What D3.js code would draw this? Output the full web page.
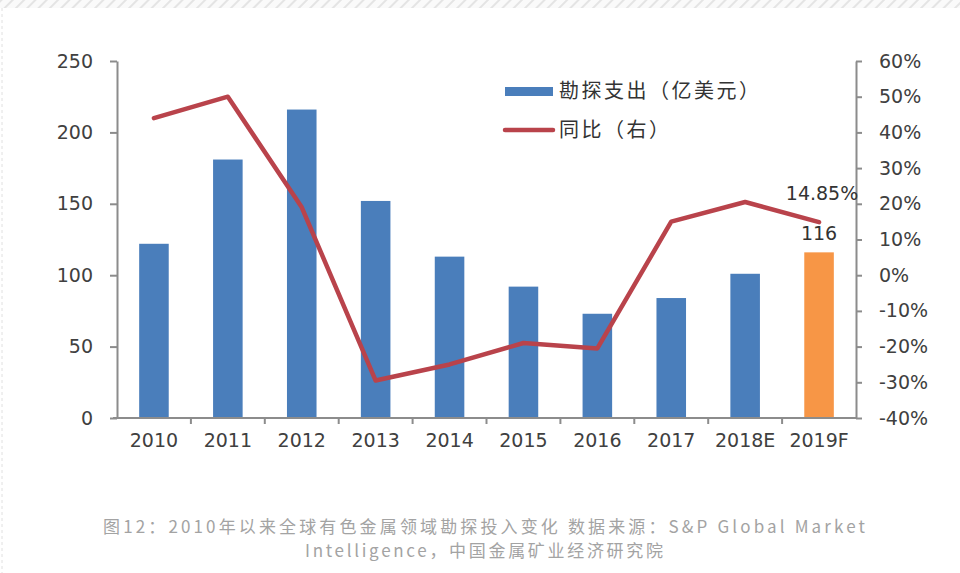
<!DOCTYPE html>
<html>
<head>
<meta charset="utf-8">
<title>2010年以来全球有色金属领域勘探投入变化</title>
<script src="https://cdnjs.cloudflare.com/ajax/libs/d3/7.8.5/d3.min.js"></script>
<style>
  body { margin: 0; background: #fff; }
  .tick text { font-family: "DejaVu Sans", sans-serif; font-size: 19px; fill: #404040; }
  .axis path, .axis line { stroke: #8c8c8c; stroke-width: 2; }
</style>
</head>
<body>
<div id="chart"></div>
<script>
// data
const years = ["2010", "2011", "2012", "2013", "2014", "2015", "2016", "2017", "2018E", "2019F"];
const spend = [122, 181, 216, 152, 113, 92, 73, 84, 101, 116];          // 勘探支出（亿美元）
const yoy = [44, 50, 19, -29.5, -25, -19, -20.5, 15, 20.5, 14.85];      // 同比（右），%
const leftTicks = [0, 50, 100, 150, 200, 250];
const rightTicks = [-40, -30, -20, -10, 0, 10, 20, 30, 40, 50, 60];

const width = 960, height = 573;
const m = {top: 61, left: 117, right: 104, bottom: 155};

const svg = d3.select("#chart").append("svg")
    .attr("width", width)
    .attr("height", height);

// faint hatched strip on top and dashed left edge, like the screenshot frame
const defs = svg.append("defs");
const pat = defs.append("pattern")
    .attr("id", "hatch")
    .attr("width", 8).attr("height", 8)
    .attr("patternUnits", "userSpaceOnUse")
    .attr("patternTransform", "rotate(45)");
pat.append("rect").attr("width", 8).attr("height", 8).attr("fill", "#fafafa");
pat.append("line").attr("x1", 0).attr("y1", 0).attr("x2", 0).attr("y2", 8)
    .attr("stroke", "#e4e4e4").attr("stroke-width", 4);
svg.append("rect").attr("x", 0).attr("y", 0).attr("width", width).attr("height", 8)
    .attr("fill", "url(#hatch)");
svg.append("line").attr("x1", 2).attr("x2", 2).attr("y1", 8).attr("y2", height)
    .attr("stroke", "#e0e0e0").attr("stroke-dasharray", "3,3");

const x = d3.scaleBand()
    .domain(years)
    .range([m.left, width - m.right])
    .paddingInner(0.6)
    .paddingOuter(0.3);

const band = d3.scaleBand().domain(years).range([m.left, width - m.right]);

const y = d3.scaleLinear().domain([0, 250]).range([height - m.bottom, m.top]);
const y2 = d3.scaleLinear().domain([-40, 60]).range([height - m.bottom, m.top]);

// bars
svg.append("g")
  .selectAll("rect")
  .data(years)
  .join("rect")
    .attr("x", d => x(d))
    .attr("width", x.bandwidth())
    .attr("y", (d, i) => y(spend[i]))
    .attr("height", (d, i) => y(0) - y(spend[i]))
    .attr("fill", (d, i) => i === years.length - 1 ? "#f79646" : "#4a7ebb");

// axes
const gx = svg.append("g")
    .attr("class", "axis")
    .attr("transform", `translate(0,${y(0)})`)
    .call(d3.axisBottom(band).tickSize(0).tickPadding(16));
gx.select(".domain").attr("d", `M${m.left - 4},0H${width - m.right}`);
gx.selectAll(".tick text").attr("dy", "0.71em");
// tick marks between categories
gx.selectAll(".sep")
  .data(years.slice(1))
  .join("line")
    .attr("class", "sep")
    .attr("x1", d => band(d)).attr("x2", d => band(d))
    .attr("y1", 0).attr("y2", 6);

svg.append("g")
    .attr("class", "axis")
    .attr("transform", `translate(${m.left},0)`)
    .call(d3.axisLeft(y).tickValues(leftTicks).tickSize(7).tickPadding(17).tickSizeOuter(0));

svg.append("g")
    .attr("class", "axis")
    .attr("transform", `translate(${width - m.right},0)`)
    .call(d3.axisRight(y2).tickValues(rightTicks).tickSize(6).tickPadding(17).tickSizeOuter(0)
        .tickFormat(d => d + "%"));

// line
const cx = d => band(d) + band.bandwidth() / 2;
const line = d3.line()
    .x(d => cx(d))
    .y((d, i) => y2(yoy[i]));

svg.append("path")
    .datum(years)
    .attr("d", line)
    .attr("fill", "none")
    .attr("stroke", "#b9434b")
    .attr("stroke-width", 4.5)
    .attr("stroke-linejoin", "round")
    .attr("stroke-linecap", "round");

// last point labels
const last = years.length - 1;
svg.append("text")
    .attr("x", cx(years[last]) + 3)
    .attr("y", y2(yoy[last]) - 22)
    .attr("text-anchor", "middle")
    .style("font", "19px 'DejaVu Sans', sans-serif")
    .attr("fill", "#333")
    .text(yoy[last].toFixed(2) + "%");
svg.append("text")
    .attr("x", cx(years[last]))
    .attr("y", y(spend[last]) - 12)
    .attr("text-anchor", "middle")
    .style("font", "19px 'DejaVu Sans', sans-serif")
    .attr("fill", "#333")
    .text(spend[last]);

// legend
const lg = svg.append("g").attr("transform", "translate(505,0)");
lg.append("rect").attr("x", 0).attr("y", 87).attr("width", 48).attr("height", 9).attr("fill", "#4a7ebb");
lg.append("line").attr("x1", 0).attr("x2", 48).attr("y1", 130).attr("y2", 130)
    .attr("stroke", "#b9434b").attr("stroke-width", 4.5).attr("stroke-linecap", "round");
lg.selectAll("text")
  .data(["勘探支出（亿美元）", "同比（右）"])
  .join("text")
    .attr("x", 54)
    .attr("y", (d, i) => 91 + i * 39)
    .attr("dy", "0.36em")
    .style("font", "20px 'Noto Sans CJK SC', sans-serif")
    .style("letter-spacing", "2.5px")
    .attr("fill", "#333")
    .text(d => d);

// caption
const caption = [
  {t: "图12：2010年以来全球有色金属领域勘探投入变化  数据来源：S&P Global Market", y: 533, w: 762},
  {t: "Intelligence，中国金属矿业经济研究院", y: 557, w: 358}
];
svg.append("g")
  .selectAll("text")
  .data(caption)
  .join("text")
    .attr("x", 484)
    .attr("y", d => d.y)
    .attr("text-anchor", "middle")
    .attr("textLength", d => d.w)
    .attr("lengthAdjust", "spacing")
    .style("font", "17px 'Noto Sans CJK SC', sans-serif")
    .attr("fill", "#a3a3a3")
    .text(d => d.t);
</script>
</body>
</html>
